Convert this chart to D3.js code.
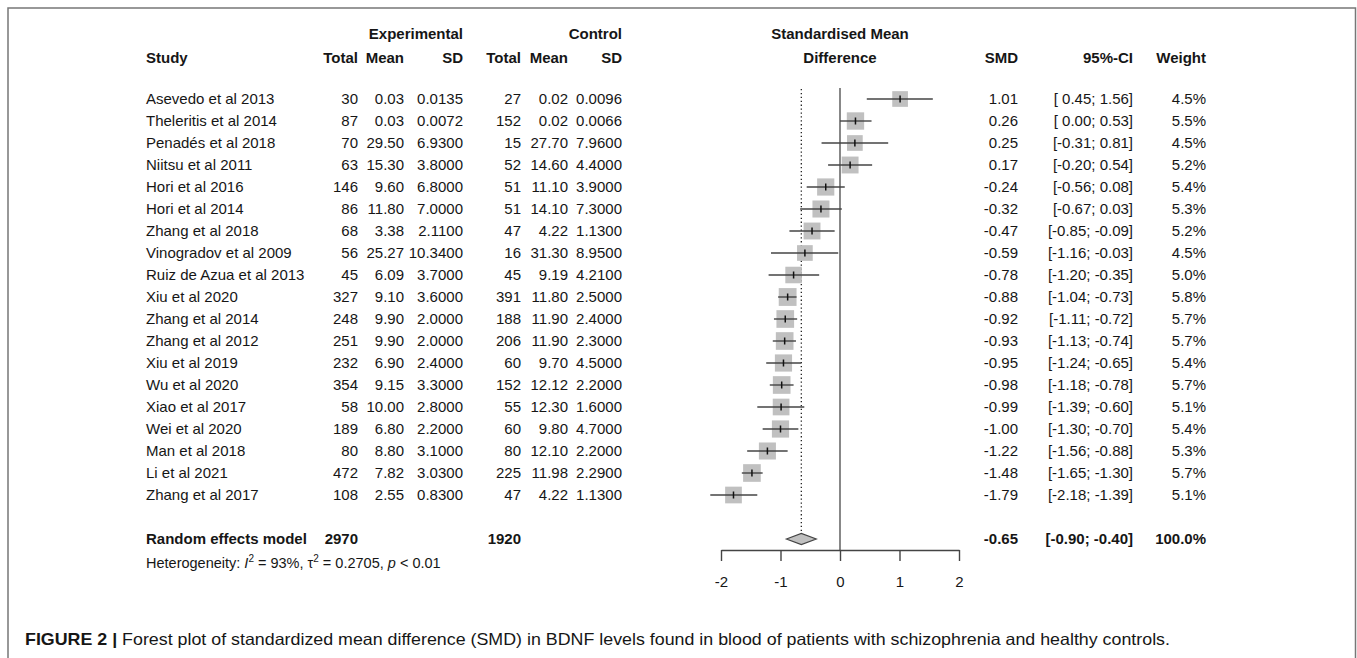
<!DOCTYPE html>
<html>
<head>
<meta charset="utf-8">
<script src="https://cdn.jsdelivr.net/npm/d3@7"></script>
<style>
  body { margin: 0; background: #fff; }
  svg text { font-family: "Liberation Sans", Arial, sans-serif; fill: #161616; }
</style>
</head>
<body>
<div id="chart"></div>
<script>
var studies = ["Asevedo et al 2013", "Theleritis et al 2014", "Penadés et al 2018", "Niitsu et al 2011",
  "Hori et al 2016", "Hori et al 2014", "Zhang et al 2018", "Vinogradov et al 2009", "Ruiz de Azua et al 2013",
  "Xiu et al 2020", "Zhang et al 2014", "Zhang et al 2012", "Xiu et al 2019", "Wu et al 2020",
  "Xiao et al 2017", "Wei et al 2020", "Man et al 2018", "Li et al 2021", "Zhang et al 2017"];
var expTotal = [30, 87, 70, 63, 146, 86, 68, 56, 45, 327, 248, 251, 232, 354, 58, 189, 80, 472, 108];
var expMean = ["0.03", "0.03", "29.50", "15.30", "9.60", "11.80", "3.38", "25.27", "6.09", "9.10", "9.90",
  "9.90", "6.90", "9.15", "10.00", "6.80", "8.80", "7.82", "2.55"];
var expSD = ["0.0135", "0.0072", "6.9300", "3.8000", "6.8000", "7.0000", "2.1100", "10.3400", "3.7000",
  "3.6000", "2.0000", "2.0000", "2.4000", "3.3000", "2.8000", "2.2000", "3.1000", "3.0300", "0.8300"];
var ctlTotal = [27, 152, 15, 52, 51, 51, 47, 16, 45, 391, 188, 206, 60, 152, 55, 60, 80, 225, 47];
var ctlMean = ["0.02", "0.02", "27.70", "14.60", "11.10", "14.10", "4.22", "31.30", "9.19", "11.80", "11.90",
  "11.90", "9.70", "12.12", "12.30", "9.80", "12.10", "11.98", "4.22"];
var ctlSD = ["0.0096", "0.0066", "7.9600", "4.4000", "3.9000", "7.3000", "1.1300", "8.9500", "4.2100",
  "2.5000", "2.4000", "2.3000", "4.5000", "2.2000", "1.6000", "4.7000", "2.2000", "2.2900", "1.1300"];
var smd = [1.01, 0.26, 0.25, 0.17, -0.24, -0.32, -0.47, -0.59, -0.78, -0.88, -0.92, -0.93, -0.95, -0.98,
  -0.99, -1.00, -1.22, -1.48, -1.79];
var ciLow = [0.45, 0.00, -0.31, -0.20, -0.56, -0.67, -0.85, -1.16, -1.20, -1.04, -1.11, -1.13, -1.24, -1.18,
  -1.39, -1.30, -1.56, -1.65, -2.18];
var ciHigh = [1.56, 0.53, 0.81, 0.54, 0.08, 0.03, -0.09, -0.03, -0.35, -0.73, -0.72, -0.74, -0.65, -0.78,
  -0.60, -0.70, -0.88, -1.30, -1.39];
var weight = [4.5, 5.5, 4.5, 5.2, 5.4, 5.3, 5.2, 4.5, 5.0, 5.8, 5.7, 5.7, 5.4, 5.7, 5.1, 5.4, 5.3, 5.7, 5.1];

var pooled = { smd: -0.65, low: -0.90, high: -0.40, expTotal: 2970, ctlTotal: 1920 };
var axisTicks = [-2, -1, 0, 1, 2];

var W = 1357, H = 658;
var FS = 15;
var svg = d3.select("#chart")
    .append("svg")
      .attr("width", W)
      .attr("height", H);

// frame around the figure
svg.append("path")
    .attr("d", "M8,658 L8,8 L1355.5,8 L1355.5,658")
    .attr("fill", "none")
    .attr("stroke", "#777")
    .attr("stroke-width", 1.5);

var x = d3.scaleLinear().domain([-2, 2]).range([721, 959]);
var y = d3.scaleLinear().domain([0, studies.length - 1]).range([99, 495]);
var ySummary = 539, yAxis = 550;
// R style numbers: plain hyphen for minus
function fmt(d) { return d.toFixed(2); }

// header
var head = svg.append("g").attr("font-weight", "bold").attr("font-size", FS);
function headText(txt, px, py, anchor) {
  head.append("text")
      .attr("x", px)
      .attr("y", py + 5)
      .attr("text-anchor", anchor)
      .text(txt);
}
var colX = { study: 146, eT: 358, eM: 404, eS: 463, cT: 521, cM: 568, cS: 622, smd: 1018, ci: 1133, w: 1206 };
headText("Experimental", colX.eS, 34, "end");
headText("Control", colX.cS, 34, "end");
headText("Standardised Mean", 840, 34, "middle");
headText("Study", colX.study, 58, "start");
headText("Total", colX.eT, 58, "end");
headText("Mean", colX.eM, 58, "end");
headText("SD", colX.eS, 58, "end");
headText("Total", colX.cT, 58, "end");
headText("Mean", colX.cM, 58, "end");
headText("SD", colX.cS, 58, "end");
headText("Difference", 840, 58, "middle");
headText("SMD", colX.smd, 58, "end");
headText("95%-CI", colX.ci, 58, "end");
headText("Weight", colX.w, 58, "end");

// table columns
var cols = [
  { v: studies, x: colX.study, a: "start" },
  { v: expTotal, x: colX.eT, a: "end" },
  { v: expMean, x: colX.eM, a: "end" },
  { v: expSD, x: colX.eS, a: "end" },
  { v: ctlTotal, x: colX.cT, a: "end" },
  { v: ctlMean, x: colX.cM, a: "end" },
  { v: ctlSD, x: colX.cS, a: "end" },
  { v: smd.map(fmt), x: colX.smd, a: "end" },
  { v: ciLow.map(function(d, i) {
        return "[" + (d >= 0 ? " " : "") + fmt(d) + "; " + fmt(ciHigh[i]) + "]";
      }), x: colX.ci, a: "end" },
  { v: weight.map(function(d) { return d.toFixed(1) + "%"; }), x: colX.w, a: "end" }
];
var table = svg.append("g").attr("font-size", FS);
cols.forEach(function(c) {
  table.selectAll(null)
      .data(c.v)
    .enter().append("text")
      .attr("x", c.x)
      .attr("y", function(d, i) { return y(i) + 5; })
      .attr("text-anchor", c.a)
      .text(function(d) { return d; });
});

// summary row
var sum = svg.append("g").attr("font-weight", "bold").attr("font-size", FS);
sum.append("text").attr("x", colX.study).attr("y", ySummary + 5).text("Random effects model");
sum.append("text").attr("x", colX.eT).attr("y", ySummary + 5).attr("text-anchor", "end").text(pooled.expTotal);
sum.append("text").attr("x", colX.cT).attr("y", ySummary + 5).attr("text-anchor", "end").text(pooled.ctlTotal);
sum.append("text").attr("x", colX.smd).attr("y", ySummary + 5).attr("text-anchor", "end").text(fmt(pooled.smd));
sum.append("text").attr("x", colX.ci).attr("y", ySummary + 5).attr("text-anchor", "end")
    .text("[" + fmt(pooled.low) + "; " + fmt(pooled.high) + "]");
sum.append("text").attr("x", colX.w).attr("y", ySummary + 5).attr("text-anchor", "end").text("100.0%");

// heterogeneity line
var het = svg.append("text")
    .attr("x", colX.study)
    .attr("y", 568)
    .attr("font-size", 14.5);
het.append("tspan").text("Heterogeneity: ");
het.append("tspan").attr("font-style", "italic").text("I");
het.append("tspan").attr("font-size", 10).attr("dy", -6).text("2");
het.append("tspan").attr("dy", 6).text(" = 93%, τ");
het.append("tspan").attr("font-size", 10).attr("dy", -6).text("2");
het.append("tspan").attr("dy", 6).text(" = 0.2705, ");
het.append("tspan").attr("font-style", "italic").text("p");
het.append("tspan").text(" < 0.01");

// plot: reference lines
var plot = svg.append("g");
plot.append("line")
    .attr("x1", x(0)).attr("x2", x(0))
    .attr("y1", 88).attr("y2", yAxis)
    .attr("stroke", "#555")
    .attr("stroke-width", 1.4);
plot.append("line")
    .attr("x1", x(pooled.smd)).attr("x2", x(pooled.smd))
    .attr("y1", 89).attr("y2", ySummary - 5.5)
    .attr("stroke", "#222")
    .attr("stroke-width", 1.3)
    .attr("stroke-dasharray", "1.3,2.6");

// boxes and CIs
var rows = plot.selectAll("g.study")
    .data(studies)
  .enter().append("g")
    .attr("class", "study");
rows.append("rect")
    .attr("x", function(d, i) { return x(smd[i]) - 3.7 * Math.sqrt(weight[i]); })
    .attr("y", function(d, i) { return y(i) - 3.7 * Math.sqrt(weight[i]); })
    .attr("width", function(d, i) { return 7.4 * Math.sqrt(weight[i]); })
    .attr("height", function(d, i) { return 7.4 * Math.sqrt(weight[i]); })
    .attr("fill", "#c0c0c0");
rows.append("line")
    .attr("x1", function(d, i) { return x(ciLow[i]); })
    .attr("x2", function(d, i) { return x(ciHigh[i]); })
    .attr("y1", function(d, i) { return y(i); })
    .attr("y2", function(d, i) { return y(i); })
    .attr("stroke", "#444")
    .attr("stroke-width", 1.4);
rows.append("line")
    .attr("x1", function(d, i) { return x(smd[i]); })
    .attr("x2", function(d, i) { return x(smd[i]); })
    .attr("y1", function(d, i) { return y(i) - 3.5; })
    .attr("y2", function(d, i) { return y(i) + 3.5; })
    .attr("stroke", "#111")
    .attr("stroke-width", 1.5);

// pooled diamond
plot.append("path")
    .attr("d", "M" + x(pooled.low) + "," + ySummary +
               "L" + x(pooled.smd) + "," + (ySummary - 5.5) +
               "L" + x(pooled.high) + "," + ySummary +
               "L" + x(pooled.smd) + "," + (ySummary + 5.5) + "Z")
    .attr("fill", "#c0c0c0")
    .attr("stroke", "#444")
    .attr("stroke-width", 1.2);

// axis
var axis = svg.append("g")
    .attr("transform", "translate(0," + yAxis + ")")
    .call(d3.axisBottom(x).tickValues(axisTicks).tickSize(11).tickSizeOuter(0).tickPadding(15)
      .tickFormat(function(d) { return String(d); }));
axis.select(".domain").attr("stroke", "#444").attr("stroke-width", 1.4);
axis.selectAll(".tick line").attr("stroke", "#444").attr("stroke-width", 1.4);
axis.selectAll(".tick text")
    .attr("font-size", FS)
    .attr("font-family", "Liberation Sans, Arial, sans-serif")
    .attr("fill", "#161616");

// caption
var cap = svg.append("text")
    .attr("x", 25)
    .attr("y", 645)
    .attr("font-size", 16.5)
    .attr("textLength", 1145)
    .attr("lengthAdjust", "spacingAndGlyphs")
    .style("font-family", "'Liberation Sans Narrow', 'Arial Narrow', 'Liberation Sans', sans-serif");
cap.append("tspan").attr("font-weight", "bold").text("FIGURE 2 | ");
cap.append("tspan").text("Forest plot of standardized mean difference (SMD) in BDNF levels found in blood of patients with schizophrenia and healthy controls.");
</script>
</body>
</html>
